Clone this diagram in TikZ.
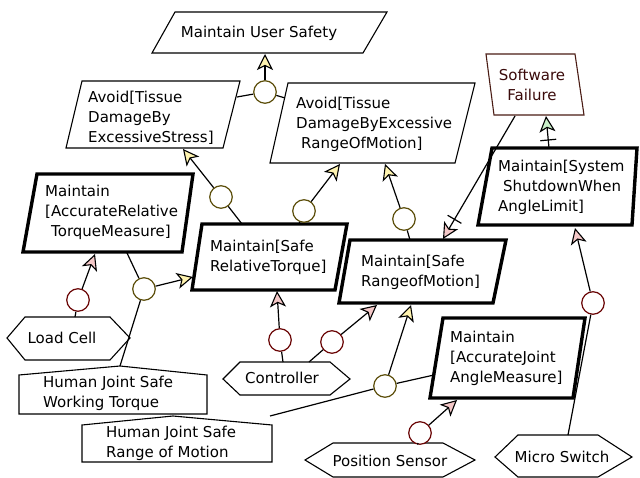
\documentclass[tikz,border=0pt]{standalone}
\usepackage{fontspec}
\setmainfont{DejaVu Sans}
\usetikzlibrary{arrows.meta,calc}
\definecolor{yelfill}{HTML}{FFF4B0}
\definecolor{yeldark}{HTML}{5C4E0A}
\definecolor{redfill}{HTML}{F4C8C8}
\definecolor{reddark}{HTML}{6A0505}
\definecolor{grnfill}{HTML}{C8EEC8}
\definecolor{sfline}{HTML}{4A1C14}
\definecolor{sftext}{HTML}{3A0A0A}
\begin{document}
\begin{tikzpicture}[x=1pt,y=-1pt,font=\fontsize{15}{20}\selectfont,
  thinbox/.style={draw=black,line width=1.1pt,fill=white,line join=miter},
  thickbox/.style={draw=black,line width=3.4pt,fill=white,line join=miter},
  sfbox/.style={draw=sfline,line width=1.1pt,fill=white,line join=miter},
  txt/.style={inner sep=0pt,align=left,anchor=west},
  ctxt/.style={inner sep=0pt,align=center},
  andc/.style={circle,draw=yeldark,fill=white,line width=1.2pt,minimum size=22.5pt,inner sep=0pt},
  respc/.style={circle,draw=reddark,fill=white,line width=1.2pt,minimum size=22.5pt,inner sep=0pt},
  link/.style={line width=1.2pt},
  refarr/.style={link,-{Stealth[length=16pt,width=16pt,inset=4pt,fill=yelfill,line width=1.1pt]}},
  resparr/.style={link,-{Stealth[length=16pt,width=16pt,inset=4pt,fill=redfill,line width=1.1pt]}},
  resolarr/.style={link,-{Stealth[length=16pt,width=16pt,inset=4pt,fill=grnfill,line width=1.1pt]}},
  crossbar/.style={line width=1.2pt}
]
\useasboundingbox (0,0) rectangle (640,478);

% ---------- goals / obstacles ----------
\draw[thinbox] (175,12) -- (387,12) -- (363,53) -- (152,53) -- cycle;
\node[ctxt] (mus) at (259,33) {Maintain User Safety};

\draw[thinbox] (82,81) -- (240,81) -- (223,148) -- (66,148) -- cycle;
\node[txt] (as) at (88,118) {Avoid[Tissue\\DamageBy\\ExcessiveStress]};

\draw[thinbox] (288,83) -- (475,83) -- (455,163) -- (270,163) -- cycle;
\node[txt] (ar) at (296,124) {Avoid[Tissue\\DamageByExcessive\\\hspace*{5pt}RangeOfMotion]};

\draw[sfbox] (486,54) -- (575,54) -- (584,115) -- (494,115) -- cycle;
\node[ctxt,text=sftext] (sf) at (532,85) {Software\\Failure};

\draw[thickbox] (492,148) -- (637,148) -- (632,225) -- (478,225) -- cycle;
\node[txt] (mss) at (498,187) {Maintain[System\\\hspace*{5pt}ShutdownWhen\\AngleLimit]};

\draw[thickbox] (37,174) -- (193,174) -- (182,252) -- (23,252) -- cycle;
\node[txt] (mart) at (45,212) {Maintain\\{[}AccurateRelative\\\hspace*{6pt}TorqueMeasure]};

\draw[thickbox] (202,224) -- (347,224) -- (335,290) -- (192,290) -- cycle;
\node[txt] (msrt) at (210,257) {Maintain[Safe\\RelativeTorque]};

\draw[thickbox] (350,240) -- (506,240) -- (493,303) -- (339,303) -- cycle;
\node[txt] (msrm) at (361,272) {Maintain[Safe\\RangeofMotion]};

\draw[thickbox] (443,318) -- (585,318) -- (573,398) -- (430,398) -- cycle;
\node[txt] (maj) at (450,358) {Maintain\\{[}AccurateJoint\\AngleMeasure]};

% ---------- agents ----------
\draw[thinbox] (7,338) -- (25,317) -- (110,317) -- (130,338) -- (110,360) -- (25,360) -- cycle;
\node[ctxt] (lc) at (62,338) {Load Cell};

\draw[thinbox] (223,379) -- (240,362) -- (330,362) -- (350,379) -- (330,395) -- (240,395) -- cycle;
\node[ctxt] (ctrl) at (282,378) {Controller};

\draw[thinbox] (305,460) -- (333,443) -- (443,443) -- (475,460) -- (443,477) -- (333,477) -- cycle;
\node[ctxt] (ps) at (390,461) {Position Sensor};

\draw[thinbox] (495,457) -- (518,435) -- (598,435) -- (632,457) -- (598,477) -- (518,477) -- cycle;
\node[ctxt] (msw) at (562,457) {Micro Switch};

% ---------- domain properties ----------
\draw[thinbox] (19,375) -- (120,366) -- (207,375) -- (207,414) -- (19,414) -- cycle;
\node[txt] (hwt) at (43,393) {Human Joint Safe\\Working Torque};

\draw[thinbox] (82,425) -- (173,416) -- (272,425) -- (272,462) -- (82,462) -- cycle;
\node[txt] (hrm) at (106,443) {Human Joint Safe\\Range of Motion};

% ---------- attachment points ----------
\coordinate (musB) at (265,54);
\coordinate (asR) at (237,97);
\coordinate (arL) at (285,98);
\coordinate (asB) at (183,149);
\coordinate (arB1) at (340,164);
\coordinate (arB2) at (385,164);
\coordinate (msrtT1) at (242,224);
\coordinate (msrtT2) at (299,224);
\coordinate (msrtL) at (193,277);
\coordinate (msrtB) at (277,291);
\coordinate (msrmT1) at (410,240);
\coordinate (msrmT2) at (443,239);
\coordinate (msrmB1) at (377,305);
\coordinate (msrmB2) at (411,305);
\coordinate (martB1) at (95,254);
\coordinate (martB2) at (127,253);
\coordinate (majL) at (434,375);
\coordinate (majB) at (457,400);
\coordinate (mssT) at (549,148);
\coordinate (mssB) at (575,228);
\coordinate (sfB1) at (515,116);
\coordinate (sfB2) at (546,116);
\coordinate (lcT) at (75,317);
\coordinate (ctrlT1) at (283,362);
\coordinate (ctrlT2) at (309,362);
\coordinate (psT) at (418,443);
\coordinate (mswT) at (568,435);
\coordinate (hwtA) at (120,366);
\coordinate (hrmA) at (270,416);

% ---------- refinement / responsibility nodes ----------
\node[andc] (c1) at (265,92) {};
\node[andc] (c2) at (221,197) {};
\node[andc] (c3) at (304,211) {};
\node[andc] (c4) at (404,219) {};
\node[andc] (c5) at (144,289) {};
\node[andc] (c9) at (385,386) {};
\node[respc] (c6) at (78,300) {};
\node[respc] (c7) at (280,340) {};
\node[respc] (c8) at (332,342) {};
\node[respc] (c10) at (420,433) {};
\node[respc] (c11) at (593,303) {};

% ---------- links ----------
\draw[refarr] (c1) -- (musB);
\draw[link] (asR) -- (c1);
\draw[link] (c1) -- (arL);

\draw[refarr] (c2) -- (asB);
\draw[link] (c2) -- (msrtT1);

\draw[refarr] (c3) -- (arB1);
\draw[link] (c3) -- (msrtT2);

\draw[refarr] (c4) -- (arB2);
\draw[link] (c4) -- (msrmT1);

\draw[refarr] (c5) -- (msrtL);
\draw[link] (c5) -- (martB2);
\draw[link] (c5) -- (hwtA);

\draw[refarr] (c9) -- (msrmB2);
\draw[link] (c9) -- (majL);
\draw[link] (c9) -- (hrmA);

\draw[resparr] (c6) -- (martB1);
\draw[link] (c6) -- (lcT);

\draw[resparr] (c7) -- (msrtB);
\draw[link] (c7) -- (ctrlT1);

\draw[resparr] (c8) -- (msrmB1);
\draw[link] (c8) -- (ctrlT2);

\draw[resparr] (c10) -- (majB);
\draw[link] (c10) -- (psT);

\draw[resparr] (c11) -- (mssB);
\draw[link] (c11) -- (mswT);

% obstruction: Software Failure -> Maintain[Safe RangeofMotion]
\draw[resparr] (sfB1) -- (msrmT2);
\coordinate (x1) at ($(sfB1)!0.84!(msrmT2)$);
\draw[crossbar] ($(x1)!8pt!90:(msrmT2)$) -- ($(x1)!8pt!-90:(msrmT2)$);

% resolution: Maintain[System ShutdownWhen AngleLimit] -> Software Failure
\draw[resolarr] (mssT) -- (sfB2);
\coordinate (x2) at ($(mssT)!0.25!(sfB2)$);
\draw[crossbar] ($(x2)!8pt!90:(sfB2)$) -- ($(x2)!8pt!-90:(sfB2)$);
\end{tikzpicture}
\end{document}
